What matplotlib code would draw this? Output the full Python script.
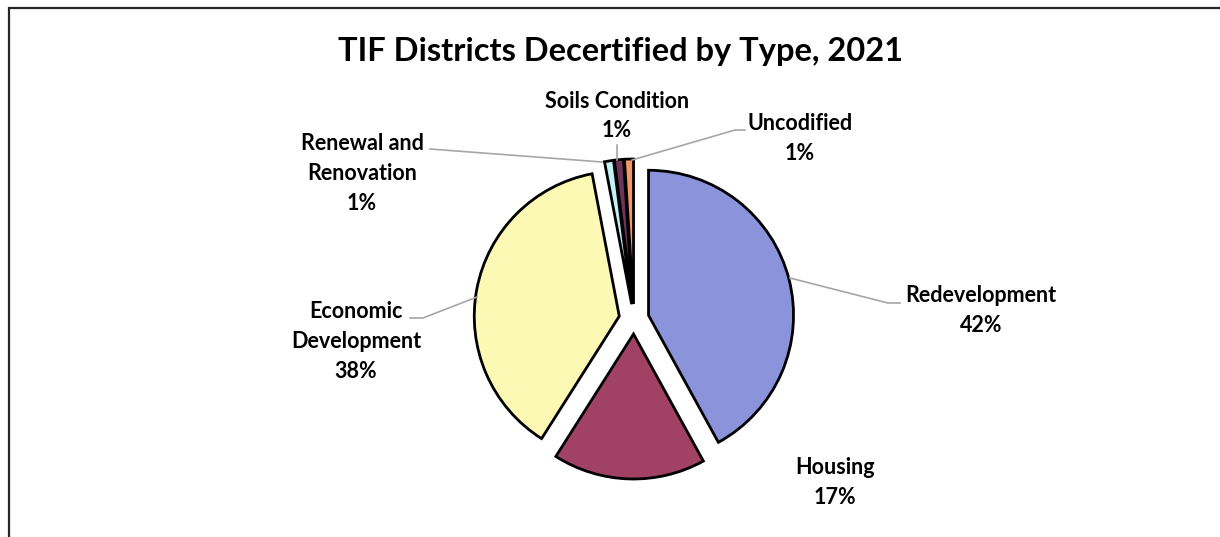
import matplotlib.pyplot as plt
from matplotlib.patches import Rectangle

# data
categories = ['Redevelopment', 'Housing', 'Economic\nDevelopment',
              'Renewal and\nRenovation', 'Soils Condition', 'Uncodified']
values = [42, 17, 38, 1, 1, 1]
colors = ['#8B93DB', '#A14264', '#FBF9B3', '#C3F1F8', '#6D3558', '#F2966B']

# label positions in image pixels (x center, y of first line), leader line points
label_pos = [(981, 296), (835, 468), (356, 312), (362, 144), (617, 101), (800, 124)]
leaders = [
    [(790, 278), (888, 303), (900, 303)],
    None,
    [(477, 297), (423, 318), (410, 318)],
    [(602, 162), (430, 149)],
    [(617, 160), (617, 145)],
    [(632, 160), (735, 130), (745, 130)],
]

W, H = 1220, 537
plt.rcParams['font.family'] = ['Lato', 'DejaVu Sans']


def Y(y):
    return H - y


fig = plt.figure(figsize=(W / 100, H / 100), dpi=100)
ax = fig.add_axes([0, 0, 1, 1])
ax.set_xlim(0, W)
ax.set_ylim(0, H)
ax.set_aspect('equal')
ax.axis('off')

radius = 145
ax.pie(values, colors=colors, startangle=90, counterclock=False,
       center=(634, Y(319)), radius=radius, explode=[15] * len(values),
       wedgeprops=dict(edgecolor='black', linewidth=2.0))
ax.set_xlim(0, W)
ax.set_ylim(0, H)

total = sum(values)
for cat, v, (lx, ly), lead in zip(categories, values, label_pos, leaders):
    txt = f"{cat}\n{v / total * 100:.0f}%"
    for i, line in enumerate(txt.split('\n')):
        ax.text(lx, Y(ly + i * 29.5), line, ha='center', va='center',
                fontsize=15.5, fontweight='bold', color='black')
    if lead:
        xs = [p[0] for p in lead]
        ys = [Y(p[1]) for p in lead]
        ax.plot(xs, ys, color='#A6A6A6', lw=1.2)

ax.text(621, Y(52), 'TIF Districts Decertified by Type, 2021', ha='center',
        va='center', fontsize=23.5, fontweight='bold')

# chart border (only top and left visible)
ax.add_patch(Rectangle((8.5, -20), 1300, Y(7.5) + 20, fill=False,
                       edgecolor='#262626', lw=1.6, clip_on=False))

fig.savefig('out.png', dpi=100)
